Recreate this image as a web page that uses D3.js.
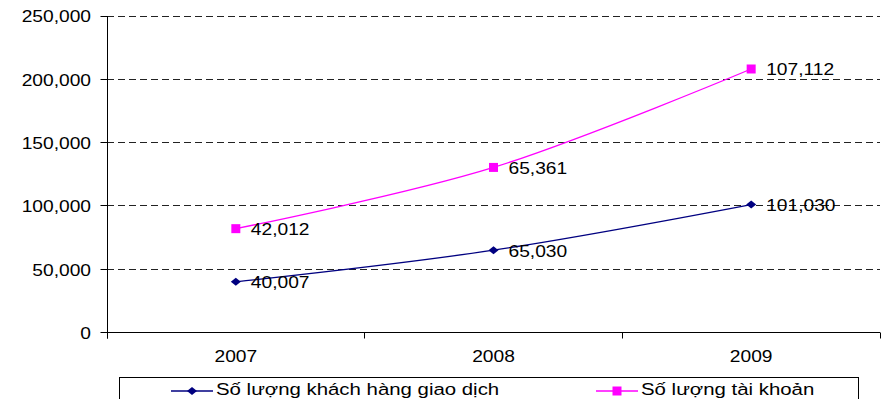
<!DOCTYPE html>
<html><head><meta charset="utf-8">
<script src="https://cdn.jsdelivr.net/npm/d3@7"></script>
<style>body{margin:0;background:#fff}svg{display:block}text{font-family:"Liberation Sans",Arial,sans-serif;fill:#000}</style>
</head><body>
<svg id="c" width="888" height="399"></svg>
<script>
const years = ["2007", "2008", "2009"];
const customers = [40007, 65030, 101030];
const accounts = [42012, 65361, 107112];
const seriesNames = ["Số lượng khách hàng giao dịch", "Số lượng tài khoản"];
const yTicks = [0, 50000, 100000, 150000, 200000, 250000];

const svg = d3.select("#c");
const L = 107, R = 880, T = 16, B = 332.5;
const x = d3.scaleBand().domain(years).range([L, R]);
const y = d3.scaleLinear().domain([0, 250000]).range([B, T]);
const fmt = d3.format(",");
const SX = 1.2;
const crisp = v => Math.round(v - 0.5) + 0.5;

function txt(g, px, py, s, anchor, size, baseline) {
  g.append("g").attr("transform", `translate(${px},${py}) scale(${SX},1)`)
    .append("text").attr("text-anchor", anchor).attr("dominant-baseline", baseline || "central")
    .style("font-size", (size || 16) + "px").text(s);
}

// gridlines
svg.append("g").selectAll("line").data(yTicks.filter(d => d > 0)).join("line")
  .attr("x1", L).attr("x2", R).attr("y1", d => crisp(y(d))).attr("y2", d => crisp(y(d)))
  .attr("stroke", "#222").attr("stroke-width", 1).attr("stroke-dasharray", "7,4");

// y axis
const ya = svg.append("g").attr("transform", `translate(${L + 0.5},0)`)
  .call(d3.axisLeft(y).tickValues(yTicks).tickSize(7).tickFormat(() => ""));
ya.select(".domain").attr("d", `M0,${T}V${B + 6}`).attr("stroke", "#000");
ya.selectAll(".tick").attr("transform", d => `translate(0,${crisp(y(d))})`);
ya.selectAll(".tick line").attr("stroke", "#000");
yTicks.forEach(v => txt(svg, 91, y(v) + 1, fmt(v), "end"));

// x axis
svg.append("line").attr("x1", L).attr("x2", R).attr("y1", B).attr("y2", B).attr("stroke", "#000");
const bounds = years.map(d => x(d)).concat([x(years[years.length - 1]) + x.bandwidth()]);
svg.append("g").selectAll("line").data(bounds).join("line")
  .attr("x1", d => crisp(d)).attr("x2", d => crisp(d)).attr("y1", B).attr("y2", B + 6).attr("stroke", "#000");
years.forEach(yr => txt(svg, x(yr) + x.bandwidth() / 2, 357, yr, "middle"));

const cx = d => x(d) + x.bandwidth() / 2;
const stacked = accounts.map((v, i) => v + customers[i]);
const line = d3.line().x((d, i) => cx(years[i])).y(d => y(d)).curve(d3.curveCatmullRom.alpha(0));

const diamond = "M-5,0L0,-4L5,0L0,4Z";
const square = "M-4.5,-4.5H4.5V4.5H-4.5Z";

// customers series
svg.append("path").attr("d", line(customers)).attr("fill", "none").attr("stroke", "#000080").attr("stroke-width", 1.3);
// accounts series (stacked on customers)
svg.append("path").attr("d", line(stacked)).attr("fill", "none").attr("stroke", "#FF00FF").attr("stroke-width", 1.3);

customers.forEach((v, i) => {
  svg.append("path").attr("d", diamond).attr("transform", `translate(${cx(years[i])},${y(v)})`).attr("fill", "#000080");
  txt(svg, cx(years[i]) + 15, y(v) + 1, fmt(v), "start");
});
stacked.forEach((v, i) => {
  svg.append("path").attr("d", square).attr("transform", `translate(${cx(years[i])},${y(v)})`).attr("fill", "#FF00FF");
  txt(svg, cx(years[i]) + 15, y(v) + 1, fmt(accounts[i]), "start");
});

// legend
svg.append("rect").attr("x", 119.5).attr("y", 377.5).attr("width", 739).attr("height", 40)
  .attr("fill", "#fff").attr("stroke", "#000");
const legItems = [
  {name: seriesNames[0], color: "#000080", mk: diamond, x0: 171},
  {name: seriesNames[1], color: "#FF00FF", mk: square, x0: 596}
];
legItems.forEach(it => {
  svg.append("line").attr("x1", it.x0).attr("x2", it.x0 + 42).attr("y1", 391).attr("y2", 391)
    .attr("stroke", it.color).attr("stroke-width", 1.3);
  svg.append("path").attr("d", it.mk).attr("transform", `translate(${it.x0 + 21},391)`).attr("fill", it.color);
  txt(svg, it.x0 + 45, 395, it.name, "start", 17, "alphabetic");
});
</script>
</body></html>
